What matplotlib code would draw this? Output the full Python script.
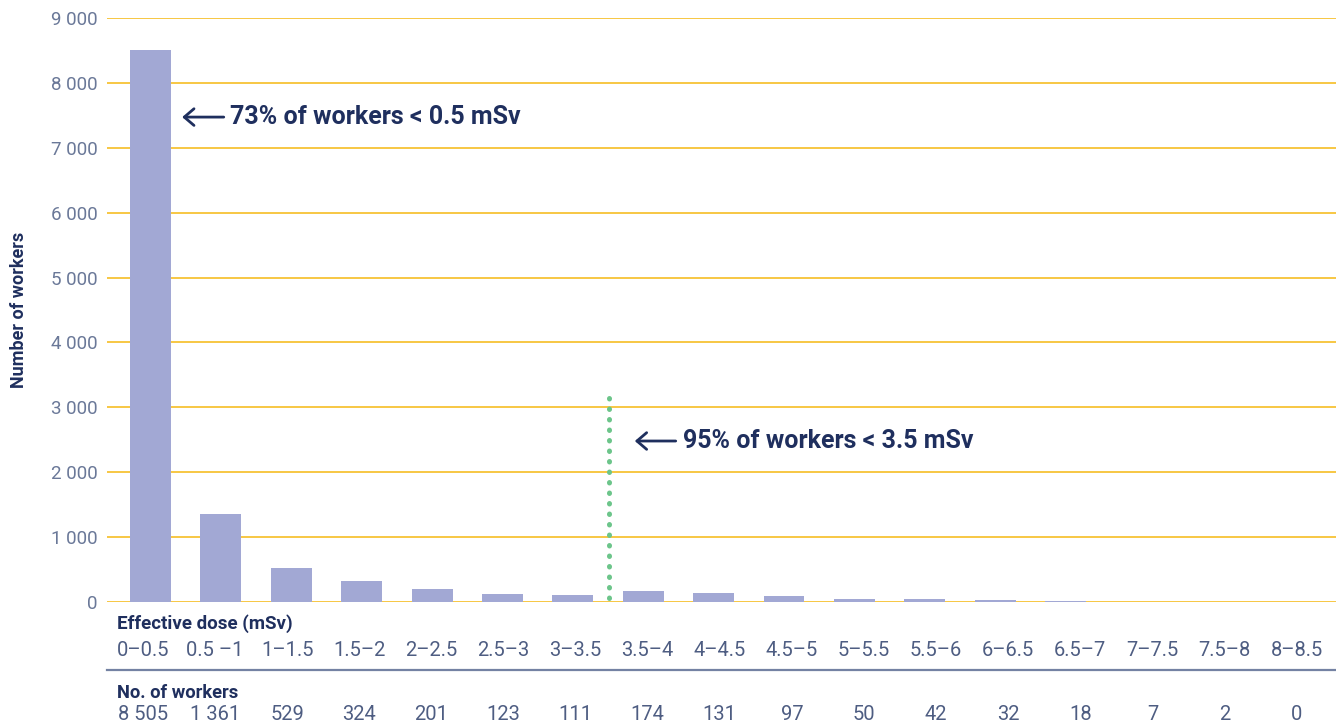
import matplotlib
matplotlib.use("Agg")
import matplotlib.pyplot as plt
from matplotlib.lines import Line2D

# Dose bands and number of workers in each band
dose_bands = ["0–0.5", "0.5 –1", "1–1.5", "1.5–2", "2–2.5", "2.5–3", "3–3.5",
              "3.5–4", "4–4.5", "4.5–5", "5–5.5", "5.5–6", "6–6.5", "6.5–7",
              "7–7.5", "7.5–8", "8–8.5"]
workers = [8505, 1361, 529, 324, 201, 123, 111, 174, 131, 97, 50, 42, 32, 18, 7, 2, 0]
y_ticks = [0, 1000, 2000, 3000, 4000, 5000, 6000, 7000, 8000, 9000]

BAR = "#a2a8d4"
GRID = "#f7c335"
NAVY = "#1f2f5e"
TICK = "#6a7898"
CELL = "#4e5d82"
GREEN = "#6cc58a"

plt.rcParams["font.family"] = ["Roboto", "DejaVu Sans"]

W, H = 1336, 726
fig = plt.figure(figsize=(W / 100, H / 100), dpi=100)
ax = fig.add_axes([107 / W, 1 - 602 / H, 1 - 107 / W, (602 - 18) / H])

x = list(range(len(workers)))
ax.bar(x, workers, width=0.58, color=BAR, zorder=2)

ax.set_ylim(0, 9000)
ax.set_xlim(-0.618, 16.84)
ax.set_yticks(y_ticks)
ax.set_yticklabels([f"{v:,}".replace(",", " ") for v in y_ticks],
                   fontsize=13.5, color=TICK, fontweight="normal")
ax.tick_params(axis="y", length=0, pad=7)
ax.set_xticks([])
for s in ax.spines.values():
    s.set_visible(False)
ax.grid(axis="y", color=GRID, linewidth=1.3, zorder=1)
ax.set_axisbelow(True)

ax.set_ylabel("Number of workers", fontsize=13, fontweight="bold", color=NAVY, labelpad=16)

# 95% marker between the 3–3.5 and 3.5–4 bands
ax.plot([6.52, 6.52], [3150, 40], linestyle=(0, (0.1, 2.0)), color=GREEN,
        linewidth=3.6, dash_capstyle="round", zorder=3)

# Annotations
arrow = dict(arrowstyle="->,head_length=0.7,head_width=0.6", color=NAVY, lw=2)
ax.annotate("", xy=(0.41, 7473), xytext=(1.08, 7473), arrowprops=arrow)
ax.text(1.13, 7473, "73% of workers < 0.5 mSv", fontsize=18, fontweight="bold",
        color=NAVY, va="center", ha="left")
ax.annotate("", xy=(6.84, 2481), xytext=(7.50, 2481), arrowprops=arrow)
ax.text(7.57, 2481, "95% of workers < 3.5 mSv", fontsize=18, fontweight="bold",
        color=NAVY, va="center", ha="left")

# Table beneath the chart
fig.text(117 / W, 1 - 624 / H, "Effective dose (mSv)", fontsize=13.5,
         fontweight="bold", color=NAVY, va="center", ha="left")
for i, lab in enumerate(dose_bands):
    fig.text((143 + 72.1 * i) / W, 1 - 650 / H, lab, fontsize=14.5, color=CELL,
             fontweight="normal", ha="center", va="center")
fig.add_artist(Line2D([107 / W, 1], [1 - 670 / H, 1 - 670 / H],
                      color="#7482a3", linewidth=1.6, transform=fig.transFigure))
fig.text(117 / W, 1 - 693 / H, "No. of workers", fontsize=13.2,
         fontweight="bold", color=NAVY, va="center", ha="left")
for i, v in enumerate(workers):
    fig.text((143 + 72.1 * i) / W, 1 - 714 / H, f"{v:,}".replace(",", " "),
             fontsize=14.5, color=CELL, fontweight="normal", ha="center", va="center")

fig.savefig("out.png", dpi=100)
